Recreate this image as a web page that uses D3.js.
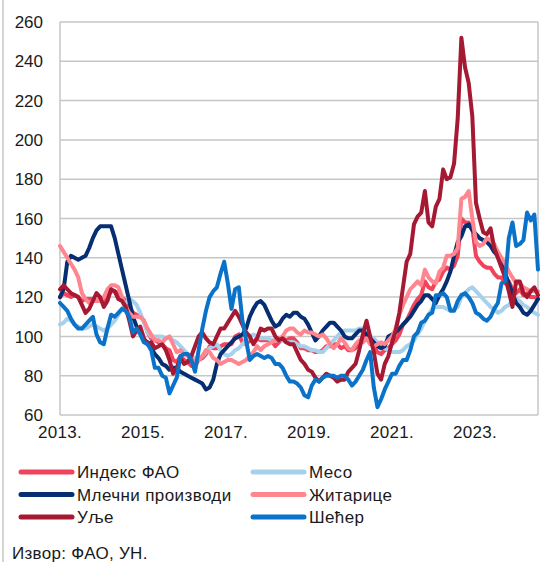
<!DOCTYPE html>
<html>
<head>
<meta charset="utf-8">
<script src="https://cdn.jsdelivr.net/npm/d3@7"></script>
<style>
	body { margin: 0; background: #fff; }
	svg { display: block; font-family: "Liberation Sans", Arial, sans-serif; }
</style>
</head>
<body>
<svg id="chart" width="548" height="562"></svg>
<script>
;( function() {

	"use strict";

	//monthly values, jan 2013 - dec 2023
	var ffpi = [
		120, 122, 121, 120, 121, 120, 118, 119, 119, 119, 118, 119,
		118, 120, 123, 123, 122, 120, 118, 115, 112, 111, 110, 108,
		102, 99, 98, 97, 96, 94, 93, 88, 87, 90, 88, 87,
		85, 85, 88, 89, 91, 95, 94, 94, 95, 96, 96, 96,
		100, 101, 97, 96, 98, 97, 99, 98, 98, 98, 98, 95,
		97, 99, 98, 99, 99, 97, 94, 94, 93, 93, 92, 92,
		93, 95, 95, 96, 96, 94, 95, 93, 93, 94, 96, 99,
		101, 99, 95, 92, 91, 93, 94, 96, 98, 101, 106, 108,
		112, 116, 119, 121, 128, 125, 124, 128, 129, 133, 135, 134,
		136, 141, 160, 158, 158, 155, 141, 138, 136, 135, 135, 132,
		130, 130, 127, 128, 124, 122, 124, 121, 122, 120, 120, 119
	];
	var meat = [
		106, 107, 109, 108, 106, 105, 104, 104, 105, 106, 105, 104,
		103, 104, 106, 108, 111, 114, 117, 119, 118, 116, 112, 107,
		102, 100, 100, 100, 100, 99, 99, 98, 97, 95, 93, 91,
		90, 89, 89, 90, 92, 94, 95, 96, 93, 91, 90, 91,
		93, 94, 96, 98, 100, 101, 100, 99, 99, 99, 98, 98,
		98, 98, 97, 97, 97, 96, 95, 95, 94, 93, 93, 92,
		92, 94, 96, 98, 100, 102, 103, 103, 103, 103, 104, 104,
		102, 100, 99, 97, 95, 94, 93, 92, 92, 92, 93, 95,
		96, 98, 101, 104, 108, 111, 114, 115, 115, 115, 114, 113,
		114, 115, 120, 122, 124, 125, 123, 121, 119, 117, 115, 114,
		112, 113, 115, 116, 118, 119, 118, 116, 115, 113, 112, 111
	];
	var dairy = [
		120, 124, 138, 141, 140, 139, 140, 141, 145, 150, 154, 156,
		156, 156, 156, 150, 142, 134, 126, 118, 110, 105, 102, 98,
		97, 94, 91, 89, 86, 85, 83, 84, 84, 82, 81, 80,
		79, 78, 77, 76, 73, 74, 78, 86, 91, 93, 95, 97,
		99, 100, 101, 104, 110, 114, 117, 118, 116, 112, 108, 105,
		106, 109, 111, 110, 112, 112, 110, 109, 106, 102, 98, 100,
		103, 105, 107, 107, 105, 103, 100, 99, 99, 101, 103, 103,
		101, 99, 97, 95, 94, 95, 100, 101, 102, 104, 106, 108,
		110, 113, 116, 118, 121, 121, 119, 117, 121, 124, 128, 133,
		141, 148, 151, 156, 157, 154, 152, 150, 149, 148, 146, 143,
		141, 137, 132, 127, 122, 117, 115, 112, 111, 113, 116, 119
	];
	var cereals = [
		146, 143, 140, 137, 134, 130, 122, 119, 117, 118, 118, 118,
		120, 124, 126, 126, 125, 120, 115, 112, 110, 110, 110, 108,
		104, 101, 98, 98, 97, 99, 100, 96, 92, 93, 91, 90,
		89, 87, 88, 90, 93, 92, 89, 88, 86, 87, 88, 88,
		87, 86, 87, 88, 90, 92, 95, 93, 95, 96, 97, 98,
		99, 100, 103, 104, 104, 102, 101, 103, 102, 102, 101, 100,
		101, 99, 96, 94, 96, 99, 97, 94, 93, 96, 98, 97,
		99, 96, 95, 96, 97, 96, 98, 100, 104, 111, 116, 120,
		124, 126, 128, 126, 134, 130, 128, 127, 133, 135, 141, 141,
		142, 145, 170, 171, 174, 160, 148, 146, 147, 150, 149, 147,
		143, 140, 137, 133, 130, 127, 127, 125, 124, 123, 123, 123
	];
	var oil = [
		124, 126, 124, 122, 121, 120, 116, 112, 114, 118, 122, 120,
		115, 118, 124, 123, 119, 118, 115, 108, 100, 103, 105, 99,
		96, 97, 94, 95, 96, 93, 88, 81, 84, 89, 86, 87,
		90, 95, 100, 102, 99, 97, 96, 100, 104, 104, 107, 110,
		113, 110, 106, 102, 100, 96, 99, 104, 103, 104, 104, 100,
		98, 99, 97, 96, 96, 92, 88, 86, 83, 82, 79, 77,
		79, 81, 80, 79, 77, 78, 78, 82, 84, 86, 93, 101,
		108, 100, 92, 81, 78, 86, 90, 97, 103, 112, 125, 138,
		142, 157, 161, 163, 174, 158, 156, 166, 170, 185, 180, 181,
		188, 211, 252, 237, 229, 212, 168, 160, 153, 152, 155, 145,
		140, 135, 130, 123, 115, 128, 128, 122, 120, 123, 125, 121
	];
	var sugar = [
		117, 115, 113, 109, 106, 104, 104, 106, 108, 110, 101, 97,
		96, 104, 111, 110, 112, 114, 113, 110, 102, 104, 101, 97,
		96, 93, 84, 84, 80, 79, 71, 75, 79, 90, 91, 91,
		88, 82, 93, 104, 113, 120, 123, 125, 132, 138, 127, 114,
		124, 125, 108, 98, 88, 90, 91, 90, 89, 90, 89, 86,
		86, 84, 80, 77, 77, 76, 74, 70, 69, 75, 78, 77,
		79, 80, 80, 80, 79, 80, 80, 78, 75, 77, 80, 83,
		88, 92, 74, 64, 68, 73, 77, 81, 81, 85, 88, 88,
		93, 100, 102, 107, 108, 111, 112, 121, 121, 122, 120, 113,
		113, 118, 121, 122, 120, 117, 112, 111, 109, 108, 110, 114,
		117, 127, 128, 150, 158, 146, 147, 149, 163, 159, 162, 134
	];

	var seriesNames = [ "Индекс ФАО", "Месо", "Млечни производи", "Житарице", "Уље", "Шећер" ],
		seriesData = [ ffpi, meat, dairy, cereals, oil, sugar ],
		seriesColors = [ "#f2435c", "#a6d1ec", "#062e72", "#ff858f", "#a51932", "#0a72c9" ];

	var xLabels = [ "2013.", "2015.", "2017.", "2019.", "2021.", "2023." ],
		xLabelMonths = [ 0, 22.75, 45.5, 68.25, 91, 113.75 ],
		yTicks = [ 60, 80, 100, 120, 140, 160, 180, 200, 220, 240, 260 ];

	var svg = d3.select( "#chart" ),
		left = 60,
		right = 538,
		top = 22,
		bottom = 415,
		gridColor = "#c6c6c6";

	var x = d3.scaleLinear().domain( [ 0, ffpi.length - 1 ] ).range( [ left, right ] ),
		y = d3.scaleLinear().domain( [ 60, 260 ] ).range( [ bottom, top ] );

	//outer frame line on the left
	svg.append( "line" )
		.attr( "x1", 3 ).attr( "x2", 3 )
		.attr( "y1", 0 ).attr( "y2", 562 )
		.attr( "stroke", gridColor ).attr( "stroke-width", 1.5 );

	//gridlines
	svg.append( "g" )
		.selectAll( "line" ).data( yTicks )
		.enter().append( "line" )
			.attr( "x1", left ).attr( "x2", right )
			.attr( "y1", function( d ) { return y( d ); } )
			.attr( "y2", function( d ) { return y( d ); } )
			.attr( "stroke", gridColor ).attr( "stroke-width", 1.5 );

	//plot border sides
	svg.append( "line" ).attr( "x1", left ).attr( "x2", left ).attr( "y1", top ).attr( "y2", bottom )
		.attr( "stroke", gridColor ).attr( "stroke-width", 1.5 );
	svg.append( "line" ).attr( "x1", right ).attr( "x2", right ).attr( "y1", top ).attr( "y2", bottom )
		.attr( "stroke", gridColor ).attr( "stroke-width", 1.5 );

	//y labels
	svg.append( "g" )
		.selectAll( "text" ).data( yTicks )
		.enter().append( "text" )
			.attr( "x", 43 )
			.attr( "y", function( d ) { return y( d ); } )
			.attr( "dy", "0.36em" )
			.attr( "text-anchor", "end" )
			.attr( "font-size", 17 )
			.attr( "fill", "#1a1a1a" )
			.text( function( d ) { return d; } );

	//x labels
	svg.append( "g" )
		.selectAll( "text" ).data( xLabels )
		.enter().append( "text" )
			.attr( "x", function( d, i ) { return x( xLabelMonths[ i ] ); } )
			.attr( "y", 438 )
			.attr( "text-anchor", "middle" )
			.attr( "font-size", 17 )
			.attr( "letter-spacing", 0.3 )
			.attr( "fill", "#1a1a1a" )
			.text( function( d ) { return d; } );

	//series lines
	var line = d3.line()
		.x( function( d, i ) { return x( i ); } )
		.y( function( d ) { return y( d ); } );

	svg.append( "g" )
		.selectAll( "path" ).data( seriesData )
		.enter().append( "path" )
			.attr( "d", line )
			.attr( "fill", "none" )
			.attr( "stroke", function( d, i ) { return seriesColors[ i ]; } )
			.attr( "stroke-width", 4 )
			.attr( "stroke-linejoin", "round" )
			.attr( "stroke-linecap", "round" );

	//legend, two columns
	var legend = svg.append( "g" ).attr( "class", "legend" );
	var items = legend.selectAll( "g" ).data( seriesNames )
		.enter().append( "g" )
			.attr( "transform", function( d, i ) { var col = i % 2, row = Math.floor( i / 2 ); return "translate(" + ( col ? 253 : 21 ) + "," + ( 472 + row * 22.5 ) + ")"; } );
	items.append( "line" )
		.attr( "x1", 0 ).attr( "x2", 51 )
		.attr( "y1", 0 ).attr( "y2", 0 )
		.attr( "stroke", function( d, i ) { return seriesColors[ i ]; } )
		.attr( "stroke-width", 5 )
		.attr( "stroke-linecap", "round" );
	items.append( "text" )
		.attr( "x", 56 )
		.attr( "dy", "0.36em" )
		.attr( "font-size", 17 )
		.attr( "letter-spacing", 0.4 )
		.attr( "fill", "#1a1a1a" )
		.text( function( d ) { return d; } );

	//source
	svg.append( "text" )
		.attr( "x", 12 ).attr( "y", 559 )
		.attr( "font-size", 17 )
		.attr( "letter-spacing", 0.3 )
		.attr( "fill", "#1a1a1a" )
		.text( "Извор: ФАО, УН." );

})();
</script>
</body>
</html>
